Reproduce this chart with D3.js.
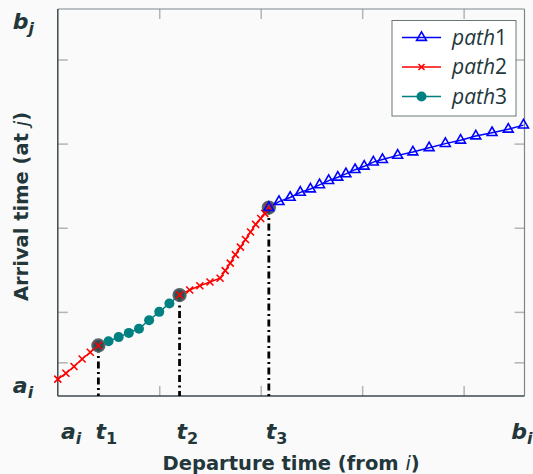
<!DOCTYPE html>
<html>
<head>
<meta charset="utf-8">
<script src="https://cdn.jsdelivr.net/npm/d3@7"></script>
<style>
  body { margin: 0; background: #fafafa; }
  svg { display: block; font-family: "Open Sans", "DejaVu Sans", sans-serif; }
</style>
</head>
<body>
<svg id="chart" width="533" height="474"></svg>
<script>
// series values (departure -> arrival)
const path2aX = [0, 0.08, 0.16, 0.24, 0.32, 0.4];
const path2aY = [0.2, 0.27, 0.35, 0.44, 0.52, 0.6];

const path3X = [0.4, 0.5, 0.6, 0.7, 0.8, 0.9, 1.0, 1.1, 1.2];
const path3Y = [0.6, 0.65, 0.7, 0.75, 0.8, 0.9, 1.0, 1.1, 1.2];

const path2bX = [1.2, 1.3, 1.4, 1.5, 1.6, 1.65, 1.7, 1.75, 1.8, 1.85, 1.9, 1.95, 2.0, 2.04, 2.08];
const path2bY = [1.2, 1.26, 1.31, 1.355, 1.4, 1.49, 1.58, 1.68, 1.77, 1.86, 1.95, 2.04, 2.11, 2.17, 2.24];

const path1X = [2.08, 2.18, 2.29, 2.39, 2.49, 2.58, 2.67, 2.76, 2.84, 2.93, 3.02, 3.11, 3.2,
                3.35, 3.5, 3.66, 3.82, 3.97, 4.12, 4.28, 4.44, 4.59];
const path1Y = [2.24, 2.31, 2.36, 2.42, 2.46, 2.51, 2.56, 2.6, 2.64, 2.69, 2.73, 2.78, 2.81,
                2.86, 2.9, 2.95, 3.0, 3.04, 3.09, 3.13, 3.17, 3.22];

// breakpoints t1, t2, t3
const keyX = [0.4, 1.2, 2.08];
const keyY = [0.6, 1.2, 2.24];

// ticks and labels
const xTicks = [1, 2, 3, 4];
const yTicks = [0.4, 1, 2, 3, 4];
const xLabelVals = [0.06, 0.4, 1.2, 2.08, 4.5];
const xLabelBase = ["a", "t", "t", "t", "b"];
const xLabelSub = ["i", "1", "2", "3", "i"];
const yLabelVals = [0.1, 4.42];
const yLabelBase = ["a", "b"];
const yLabelSub = ["i", "j"];

const legendNames = ["path", "path", "path"];
const legendNums = ["1", "2", "3"];

const textCol = "#23373b";
const margin = {top: 9, right: 8.5, bottom: 78, left: 57.8};
const svg = d3.select("#chart");
const width = 533 - margin.left - margin.right;
const height = 474 - margin.top - margin.bottom;

const x = d3.scaleLinear().domain([0, 4.6]).range([0, width]);
const y = d3.scaleLinear().domain([0, 4.6]).range([height, 0]);

const g = svg.append("g").attr("transform", `translate(${margin.left},${margin.top})`);

// grey inward ticks on all four sides
function tickAxis(axis) {
    return a => {
        a.call(axis);
        a.select(".domain").remove();
        a.selectAll("line").attr("stroke", "#b4b4b4").attr("stroke-width", 1.5);
        a.selectAll("text").remove();
    };
}
g.append("g").attr("transform", `translate(0,${height})`)
    .call(tickAxis(d3.axisBottom(x).tickValues(xTicks).tickSize(-10)));
g.append("g")
    .call(tickAxis(d3.axisTop(x).tickValues(xTicks).tickSize(-10)));
g.append("g")
    .call(tickAxis(d3.axisLeft(y).tickValues(yTicks).tickSize(-10)));
g.append("g").attr("transform", `translate(${width},0)`)
    .call(tickAxis(d3.axisRight(y).tickValues(yTicks).tickSize(-10)));

// frame
g.append("line").attr("x1", 0).attr("x2", width).attr("y1", 0).attr("y2", 0)
    .attr("stroke", "#7d8789").attr("stroke-width", 1.2);
g.append("line").attr("x1", width).attr("x2", width).attr("y1", 0).attr("y2", height)
    .attr("stroke", "#7d8789").attr("stroke-width", 1.2);
g.append("line").attr("x1", 0).attr("x2", 0).attr("y1", 0).attr("y2", height)
    .attr("stroke", "#3d4a4e").attr("stroke-width", 1.5);
g.append("line").attr("x1", 0).attr("x2", width).attr("y1", height).attr("y2", height)
    .attr("stroke", "#3d4a4e").attr("stroke-width", 1.5);

// dash-dot drop lines
g.selectAll(".drop").data(keyX).enter().append("line")
    .attr("x1", d => x(d)).attr("x2", d => x(d))
    .attr("y1", (d, i) => y(keyY[i])).attr("y2", height)
    .attr("stroke", "#000").attr("stroke-width", 2.8)
    .attr("stroke-dasharray", "7,3.5,2,3.5");

const line = d3.line().x(d => x(d[0])).y(d => y(d[1]));
const zip = (a, b) => a.map((v, i) => [v, b[i]]);

const p1 = zip(path1X, path1Y);
const p2a = zip(path2aX, path2aY);
const p2b = zip(path2bX, path2bY);
const p3 = zip(path3X, path3Y);

const crossPath = "M-3.5,-3.5L3.5,3.5M-3.5,3.5L3.5,-3.5";
const triPath = d3.symbol(d3.symbolTriangle, 42)();

// path3
g.append("path").attr("d", line(p3)).attr("fill", "none").attr("stroke", "teal").attr("stroke-width", 1.5);
g.selectAll(".m3").data(p3).enter().append("circle")
    .attr("cx", d => x(d[0])).attr("cy", d => y(d[1])).attr("r", 5).attr("fill", "teal");

// path2 + path1 lines
[p2a, p2b].forEach(p => g.append("path").attr("d", line(p)).attr("fill", "none")
    .attr("stroke", "red").attr("stroke-width", 1.5));
g.append("path").attr("d", line(p1)).attr("fill", "none").attr("stroke", "blue").attr("stroke-width", 1.5);

// highlighted breakpoints
g.selectAll(".key").data(keyX).enter().append("circle")
    .attr("cx", d => x(d)).attr("cy", (d, i) => y(keyY[i])).attr("r", 6.5)
    .attr("fill", "#33484c").attr("fill-opacity", 0.88)
    .attr("stroke", "#59666a").attr("stroke-width", 1.3);

g.selectAll(".m2").data(p2a.concat(p2b)).enter().append("path")
    .attr("transform", d => `translate(${x(d[0])},${y(d[1])})`)
    .attr("d", crossPath).attr("stroke", "red").attr("stroke-width", 1.6).attr("fill", "none");

g.selectAll(".m1").data(p1).enter().append("path")
    .attr("transform", d => `translate(${x(d[0])},${y(d[1])})`)
    .attr("d", triPath).attr("stroke", "blue").attr("stroke-width", 1.6).attr("fill", "none");

// math-style tick labels
function mathLabel(sel, base, sub, italicSub) {
    sel.append("tspan").text(base).attr("font-style", "italic");
    sel.append("tspan").text(sub).attr("font-size", 16).attr("dy", 5)
        .attr("font-style", italicSub ? "italic" : "normal");
}
xLabelVals.forEach((v, i) => {
    const t = g.append("text").attr("x", x(v) - 3).attr("y", height + 43)
        .attr("fill", textCol).attr("font-weight", "bold").attr("font-size", 22)
        .attr("font-family", "DejaVu Sans");
    mathLabel(t, xLabelBase[i], xLabelSub[i], isNaN(+xLabelSub[i]));
});
yLabelVals.forEach((v, i) => {
    const t = g.append("text").attr("x", -45).attr("y", y(v) + 5)
        .attr("fill", textCol).attr("font-weight", "bold").attr("font-size", 22)
        .attr("font-family", "DejaVu Sans");
    mathLabel(t, yLabelBase[i], yLabelSub[i], true);
});

// axis titles
const xt = g.append("text").attr("x", width / 2).attr("y", height + 73.5)
    .attr("text-anchor", "middle").attr("fill", textCol).attr("font-weight", "bold")
    .attr("font-size", 19.5).attr("font-family", "DejaVu Sans");
xt.append("tspan").text("Departure time (from ");
xt.append("tspan").text("i").attr("font-style", "italic").attr("font-weight", "normal");
xt.append("tspan").text(")");

const yt = g.append("text").attr("transform", `translate(-30,${height / 2 + 4}) rotate(-90)`)
    .attr("text-anchor", "middle").attr("fill", textCol).attr("font-weight", "bold")
    .attr("font-size", 19.5).attr("font-family", "DejaVu Sans");
yt.append("tspan").text("Arrival time (at ");
yt.append("tspan").text("j").attr("font-style", "italic").attr("font-weight", "normal");
yt.append("tspan").text(")");

// legend
const lg = g.append("g").attr("transform", `translate(${392 - margin.left},${20.5 - margin.top})`);
lg.append("rect").attr("width", 124).attr("height", 95.5)
    .attr("fill", "#fff").attr("stroke", "#6c7679").attr("stroke-width", 1);
const legCols = ["blue", "red", "teal"];
legCols.forEach((c, i) => {
    const ry = 17 + i * 29.5;
    lg.append("line").attr("x1", 10).attr("x2", 49).attr("y1", ry).attr("y2", ry)
        .attr("stroke", c).attr("stroke-width", 1.5);
    const m = lg.append("g").attr("transform", `translate(29.5,${ry})`);
    if (i === 0) m.append("path").attr("d", triPath).attr("stroke", c).attr("stroke-width", 1.6).attr("fill", "none");
    if (i === 1) m.append("path").attr("d", "M-3,-3L3,3M-3,3L3,-3").attr("stroke", c).attr("stroke-width", 1.6);
    if (i === 2) m.append("circle").attr("r", 5).attr("fill", c);
    const t = lg.append("text").attr("x", 60).attr("y", ry + 7)
        .attr("fill", textCol).attr("font-size", 21);
    t.append("tspan").text(legendNames[i]).attr("font-style", "italic");
    t.append("tspan").text(legendNums[i]);
});
</script>
</body>
</html>
